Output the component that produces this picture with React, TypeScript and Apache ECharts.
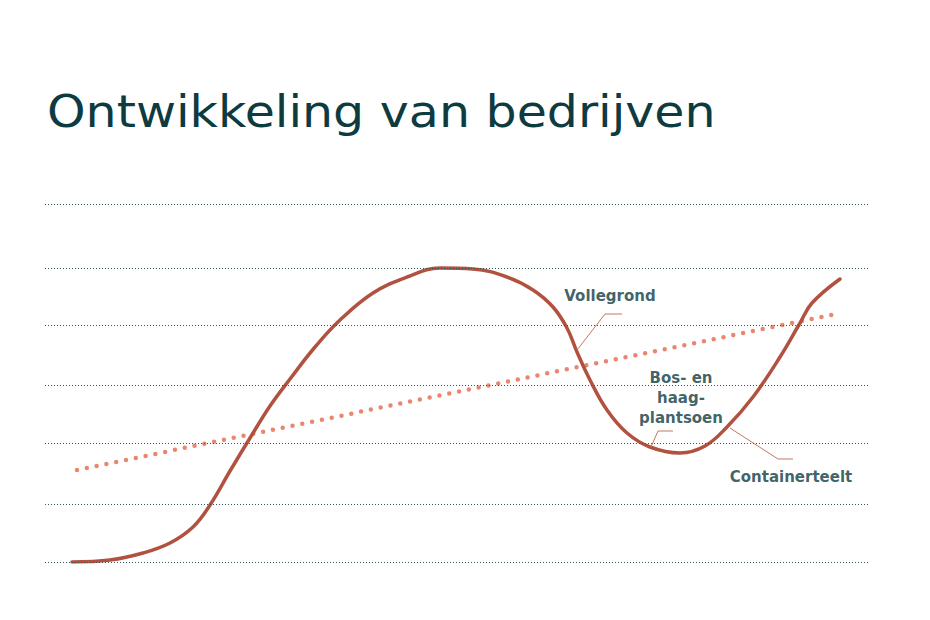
import { useEffect, useRef } from 'react';
import * as echarts from 'echarts';

// ─── Data (x: time units, y: development level) ─────────────────────────────

const TITLE = 'Ontwikkeling van bedrijven';

const gridLevels = [0, 58, 119, 177, 237, 294, 358];

const curveX = [
  27, 65, 98, 125, 148, 165, 185, 205, 225, 245, 270, 295, 328, 362, 395,
  428, 462, 488, 508, 522, 532, 545, 562, 582, 605, 635, 660, 682, 708,
  735, 755, 767, 795,
];
const curveY = [
  0, 2, 9, 19, 35, 57, 91, 124, 156, 183, 215, 242, 269, 285, 294,
  293, 285, 272, 255, 234, 210, 182, 152, 129, 115, 109, 116, 135, 165,
  205, 239, 259, 283,
];

const trendX = [32, 791];
const trendY = [92, 248];

const labelNames = ['Vollegrond', 'Bos- en\nhaag-\nplantsoen', 'Containerteelt'];
const labelX = [565, 636, 746];
const labelY = [266, 164, 85];

const leaderX = [
  [532, 560, 577],
  [606, 613, 628],
  [685, 733, 748],
];
const leaderY = [
  [212, 248, 248],
  [115, 131, 131],
  [134, 103, 103],
];

// ─── Colours ────────────────────────────────────────────────────────────────

const INK = '#0d3b3f';
const CURVE = '#b0523f';
const TREND = '#ea8670';
const LEADER = '#c47763';
const GRID = '#2f5659';

const zip = (xs: number[], ys: number[]) => xs.map((x, i) => [x, ys[i]]);

function buildOption(): echarts.EChartsOption {
  return {
    animation: false,
    backgroundColor: '#ffffff',
    graphic: [
      {
        type: 'text',
        x: 47,
        y: 89,
        scaleX: 1.09,
        silent: true,
        style: {
          text: TITLE,
          fontFamily: 'DejaVu Sans',
          fontWeight: 400,
          fontSize: 45,
          fill: INK,
          verticalAlign: 'top',
        },
      },
    ],
    grid: { left: 45, right: 62, top: 204, bottom: 58 },
    xAxis: { type: 'value', min: 0, max: 823, show: false },
    yAxis: { type: 'value', min: 0, max: 358, show: false },
    series: [
      {
        type: 'line',
        name: 'grid',
        data: [],
        silent: true,
        markLine: {
          silent: true,
          symbol: 'none',
          label: { show: false },
          lineStyle: { color: GRID, width: 1, type: [1, 2] },
          data: gridLevels.map((v) => ({ yAxis: v })),
        },
      },
      {
        type: 'line',
        name: 'trend',
        data: zip(trendX, trendY),
        symbol: 'none',
        silent: true,
        lineStyle: { color: TREND, width: 4.5, type: [0, 10], cap: 'round' },
      },
      {
        type: 'line',
        name: 'curve',
        data: zip(curveX, curveY),
        smooth: 0.4,
        symbol: 'none',
        silent: true,
        lineStyle: { color: CURVE, width: 3.5, cap: 'round' },
        z: 3,
      },
      ...leaderX.map((xs, i) => ({
        type: 'line' as const,
        name: `leader-${i}`,
        data: zip(xs, leaderY[i]),
        symbol: 'none',
        silent: true,
        lineStyle: { color: LEADER, width: 1 },
        z: 4,
      })),
      {
        type: 'scatter',
        name: 'labels',
        symbolSize: 0,
        silent: true,
        data: labelNames.map((name, i) => ({ name, value: [labelX[i], labelY[i]] })),
        label: {
          show: true,
          position: 'inside',
          formatter: '{b}',
          align: 'center',
          verticalAlign: 'middle',
          fontFamily: 'DejaVu Sans',
          fontWeight: 700,
          fontSize: 15,
          lineHeight: 20,
          color: INK,
        },
        z: 5,
      },
    ],
  };
}

export default function App() {
  const ref = useRef<HTMLDivElement>(null);

  useEffect(() => {
    document.body.style.margin = '0';
    if (!ref.current) return;
    const chart = echarts.init(ref.current, null, { renderer: 'svg' });
    chart.setOption(buildOption());
    return () => chart.dispose();
  }, []);

  return <div ref={ref} style={{ width: 930, height: 620 }} />;
}
